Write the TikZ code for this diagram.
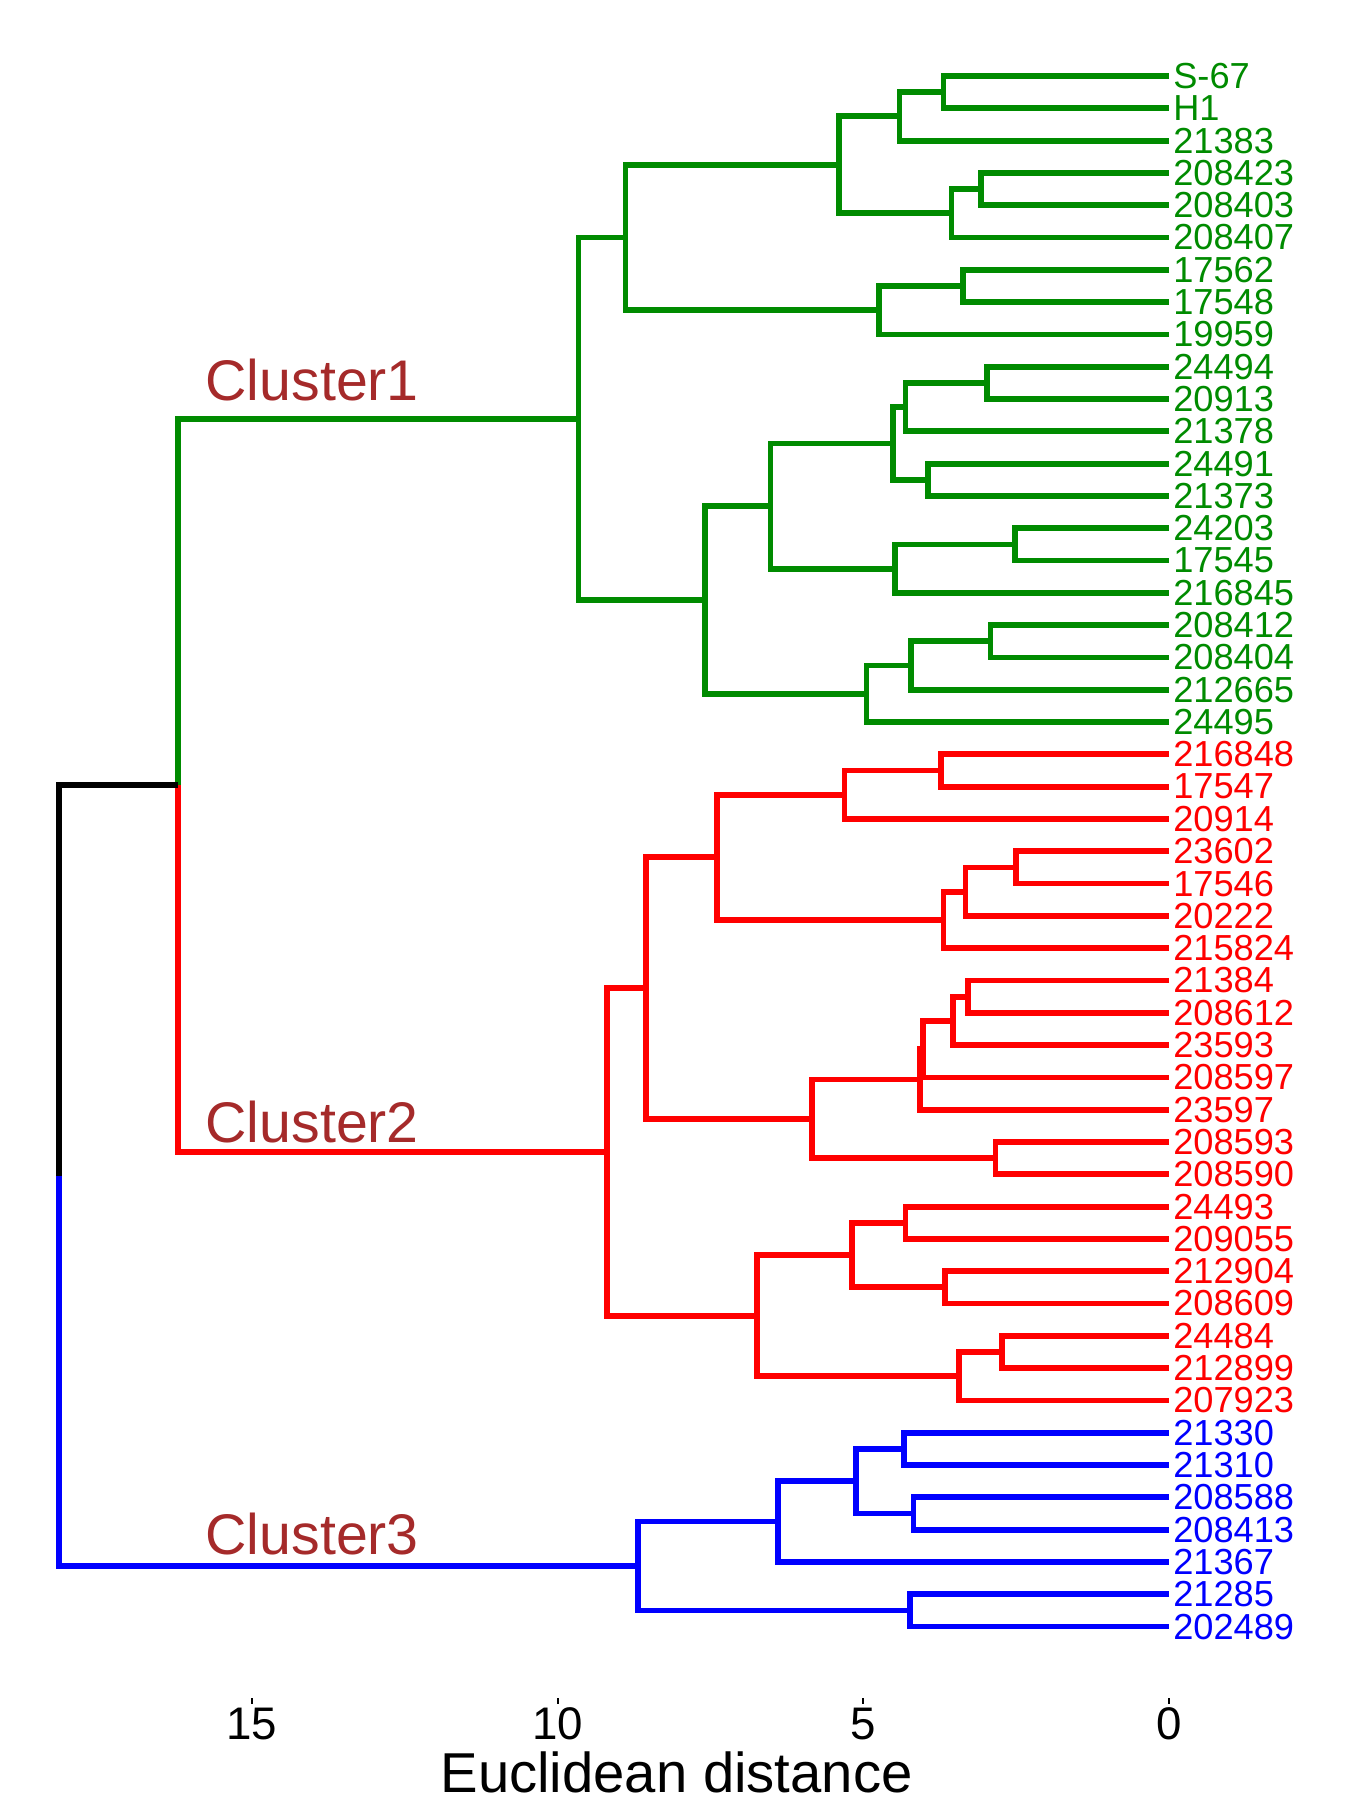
\documentclass[tikz,border=0pt]{standalone}
\usepackage{fontspec}
\setmainfont{Liberation Sans}
\definecolor{grn}{RGB}{0,139,0}
\definecolor{clbrown}{RGB}{165,42,42}

\begin{document}
\begin{tikzpicture}[x = -0.6114cm, y = -0.323cm,
 leaf/.style = {anchor = west, inner xsep = 1pt, inner ysep = 0pt, font = \fontsize{10.3}{12}\selectfont},
 branch/.style = {line width = 1.65pt, line join = miter},
 cluster/.style = {anchor = base west, inner sep = 0pt, text = clbrown, font = \fontsize{16.3}{19}\selectfont},
 ticklab/.style = {anchor = base, inner sep = 0pt, font = \fontsize{13}{15}\selectfont}]
\useasboundingbox (19.12, -2.353) rectangle (-2.96, 53.37);

% leaves
\node[leaf, grn] (S67) at (0, 0) {S-67};
\node[leaf, grn] (H1) at (0, 1) {H1};
\node[leaf, grn] (n21383) at (0, 2) {21383};
\node[leaf, grn] (n208423) at (0, 3) {208423};
\node[leaf, grn] (n208403) at (0, 4) {208403};
\node[leaf, grn] (n208407) at (0, 5) {208407};
\node[leaf, grn] (n17562) at (0, 6) {17562};
\node[leaf, grn] (n17548) at (0, 7) {17548};
\node[leaf, grn] (n19959) at (0, 8) {19959};
\node[leaf, grn] (n24494) at (0, 9) {24494};
\node[leaf, grn] (n20913) at (0, 10) {20913};
\node[leaf, grn] (n21378) at (0, 11) {21378};
\node[leaf, grn] (n24491) at (0, 12) {24491};
\node[leaf, grn] (n21373) at (0, 13) {21373};
\node[leaf, grn] (n24203) at (0, 14) {24203};
\node[leaf, grn] (n17545) at (0, 15) {17545};
\node[leaf, grn] (n216845) at (0, 16) {216845};
\node[leaf, grn] (n208412) at (0, 17) {208412};
\node[leaf, grn] (n208404) at (0, 18) {208404};
\node[leaf, grn] (n212665) at (0, 19) {212665};
\node[leaf, grn] (n24495) at (0, 20) {24495};
\node[leaf, red] (n216848) at (0, 21) {216848};
\node[leaf, red] (n17547) at (0, 22) {17547};
\node[leaf, red] (n20914) at (0, 23) {20914};
\node[leaf, red] (n23602) at (0, 24) {23602};
\node[leaf, red] (n17546) at (0, 25) {17546};
\node[leaf, red] (n20222) at (0, 26) {20222};
\node[leaf, red] (n215824) at (0, 27) {215824};
\node[leaf, red] (n21384) at (0, 28) {21384};
\node[leaf, red] (n208612) at (0, 29) {208612};
\node[leaf, red] (n23593) at (0, 30) {23593};
\node[leaf, red] (n208597) at (0, 31) {208597};
\node[leaf, red] (n23597) at (0, 32) {23597};
\node[leaf, red] (n208593) at (0, 33) {208593};
\node[leaf, red] (n208590) at (0, 34) {208590};
\node[leaf, red] (n24493) at (0, 35) {24493};
\node[leaf, red] (n209055) at (0, 36) {209055};
\node[leaf, red] (n212904) at (0, 37) {212904};
\node[leaf, red] (n208609) at (0, 38) {208609};
\node[leaf, red] (n24484) at (0, 39) {24484};
\node[leaf, red] (n212899) at (0, 40) {212899};
\node[leaf, red] (n207923) at (0, 41) {207923};
\node[leaf, blue] (n21330) at (0, 42) {21330};
\node[leaf, blue] (n21310) at (0, 43) {21310};
\node[leaf, blue] (n208588) at (0, 44) {208588};
\node[leaf, blue] (n208413) at (0, 45) {208413};
\node[leaf, blue] (n21367) at (0, 46) {21367};
\node[leaf, blue] (n21285) at (0, 47) {21285};
\node[leaf, blue] (n202489) at (0, 48) {202489};

% merge points (distance, row)
\coordinate (g1) at (3.69, 0.5);
\coordinate (g2) at (4.41, 1.25);
\coordinate (g3) at (3.07, 3.5);
\coordinate (g4) at (3.56, 4.25);
\coordinate (g5) at (5.40, 2.75);
\coordinate (g6) at (3.37, 6.5);
\coordinate (g7) at (4.75, 7.25);
\coordinate (g8) at (8.89, 5);
\coordinate (g9) at (2.98, 9.5);
\coordinate (g10) at (4.31, 10.25);
\coordinate (g11) at (3.94, 12.5);
\coordinate (g12) at (4.52, 11.375);
\coordinate (g13) at (2.52, 14.5);
\coordinate (g14) at (4.48, 15.25);
\coordinate (g15) at (6.52, 13.3125);
\coordinate (g16) at (2.92, 17.5);
\coordinate (g17) at (4.22, 18.25);
\coordinate (g18) at (4.95, 19.125);
\coordinate (g19) at (7.59, 16.219);
\coordinate (g20) at (9.66, 10.609);

\coordinate (r1) at (3.73, 21.5);
\coordinate (r2) at (5.31, 22.25);
\coordinate (r3) at (2.50, 24.5);
\coordinate (r4) at (3.33, 25.25);
\coordinate (r5) at (3.69, 26.125);
\coordinate (r6) at (7.40, 24.1875);
\coordinate (r7) at (3.29, 28.5);
\coordinate (r8) at (3.53, 29.25);
\coordinate (r9) at (4.03, 30.125);
\coordinate (r10) at (4.07, 31.0625);
\coordinate (r11) at (2.84, 33.5);
\coordinate (r12) at (5.84, 32.281);
\coordinate (r13) at (8.55, 28.234);
\coordinate (r14) at (4.31, 35.5);
\coordinate (r15) at (3.67, 37.5);
\coordinate (r16) at (5.18, 36.5);
\coordinate (r17) at (2.73, 39.5);
\coordinate (r18) at (3.43, 40.25);
\coordinate (r19) at (6.74, 38.375);
\coordinate (r20) at (9.19, 33.305);

\coordinate (b1) at (4.33, 42.5);
\coordinate (b2) at (4.18, 44.5);
\coordinate (b3) at (5.12, 43.5);
\coordinate (b4) at (6.40, 44.75);
\coordinate (b5) at (4.24, 47.5);
\coordinate (b6) at (8.68, 46.125);

\coordinate (c12) at (16.21, 21.957);
\coordinate (root) at (18.15, 34.04);

% Cluster1
\draw[branch, grn] (S67.west) -| (g1) |- (H1.west);
\draw[branch, grn] (g1) -| (g2) |- (n21383.west);
\draw[branch, grn] (n208423.west) -| (g3) |- (n208403.west);
\draw[branch, grn] (g3) -| (g4) |- (n208407.west);
\draw[branch, grn] (g2) -| (g5) |- (g4);
\draw[branch, grn] (n17562.west) -| (g6) |- (n17548.west);
\draw[branch, grn] (g6) -| (g7) |- (n19959.west);
\draw[branch, grn] (g5) -| (g8) |- (g7);
\draw[branch, grn] (n24494.west) -| (g9) |- (n20913.west);
\draw[branch, grn] (g9) -| (g10) |- (n21378.west);
\draw[branch, grn] (n24491.west) -| (g11) |- (n21373.west);
\draw[branch, grn] (g10) -| (g12) |- (g11);
\draw[branch, grn] (n24203.west) -| (g13) |- (n17545.west);
\draw[branch, grn] (g13) -| (g14) |- (n216845.west);
\draw[branch, grn] (g12) -| (g15) |- (g14);
\draw[branch, grn] (n208412.west) -| (g16) |- (n208404.west);
\draw[branch, grn] (g16) -| (g17) |- (n212665.west);
\draw[branch, grn] (g17) -| (g18) |- (n24495.west);
\draw[branch, grn] (g15) -| (g19) |- (g18);
\draw[branch, grn] (g8) -| (g20) |- (g19);
\draw[branch, grn] (g20) -| (c12);

% Cluster2
\draw[branch, red] (n216848.west) -| (r1) |- (n17547.west);
\draw[branch, red] (r1) -| (r2) |- (n20914.west);
\draw[branch, red] (n23602.west) -| (r3) |- (n17546.west);
\draw[branch, red] (r3) -| (r4) |- (n20222.west);
\draw[branch, red] (r4) -| (r5) |- (n215824.west);
\draw[branch, red] (r2) -| (r6) |- (r5);
\draw[branch, red] (n21384.west) -| (r7) |- (n208612.west);
\draw[branch, red] (r7) -| (r8) |- (n23593.west);
\draw[branch, red] (r8) -| (r9) |- (n208597.west);
\draw[branch, red] (r9) -| (r10) |- (n23597.west);
\draw[branch, red] (n208593.west) -| (r11) |- (n208590.west);
\draw[branch, red] (r10) -| (r12) |- (r11);
\draw[branch, red] (r6) -| (r13) |- (r12);
\draw[branch, red] (n24493.west) -| (r14) |- (n209055.west);
\draw[branch, red] (n212904.west) -| (r15) |- (n208609.west);
\draw[branch, red] (r14) -| (r16) |- (r15);
\draw[branch, red] (n24484.west) -| (r17) |- (n212899.west);
\draw[branch, red] (r17) -| (r18) |- (n207923.west);
\draw[branch, red] (r16) -| (r19) |- (r18);
\draw[branch, red] (r13) -| (r20) |- (r19);
\draw[branch, red] (c12) |- (r20);

% Cluster3
\draw[branch, blue] (n21330.west) -| (b1) |- (n21310.west);
\draw[branch, blue] (n208588.west) -| (b2) |- (n208413.west);
\draw[branch, blue] (b1) -| (b3) |- (b2);
\draw[branch, blue] (b3) -| (b4) |- (n21367.west);
\draw[branch, blue] (n21285.west) -| (b5) |- (n202489.west);
\draw[branch, blue] (b4) -| (b6) |- (b5);

% root
\draw[branch, black] (c12) -| (root);
\draw[branch, blue] (root) |- (b6);

\node[cluster] (clu1) at (15.77, 10.03) {Cluster1};
\node[cluster] (clu2) at (15.77, 33.0) {Cluster2};
\node[cluster] (clu3) at (15.77, 45.76) {Cluster3};

% axis
\draw[line width = 0.5pt] (15, 50.22) -- (15, 50.4);
\draw[line width = 0.5pt] (10, 50.22) -- (10, 50.4);
\draw[line width = 0.5pt] (5, 50.22) -- (5, 50.4);
\draw[line width = 0.5pt] (0, 50.22) -- (0, 50.4);
\node[ticklab] (t15) at (15, 51.5) {15};
\node[ticklab] (t10) at (10, 51.5) {10};
\node[ticklab] (t5) at (5, 51.5) {5};
\node[ticklab] (t0) at (0, 51.5) {0};
\node[anchor = base, inner sep = 0pt, font = \fontsize{16}{19}\selectfont] (xtitle) at (8.055, 53.15) {Euclidean distance};
\end{tikzpicture}
\end{document}
